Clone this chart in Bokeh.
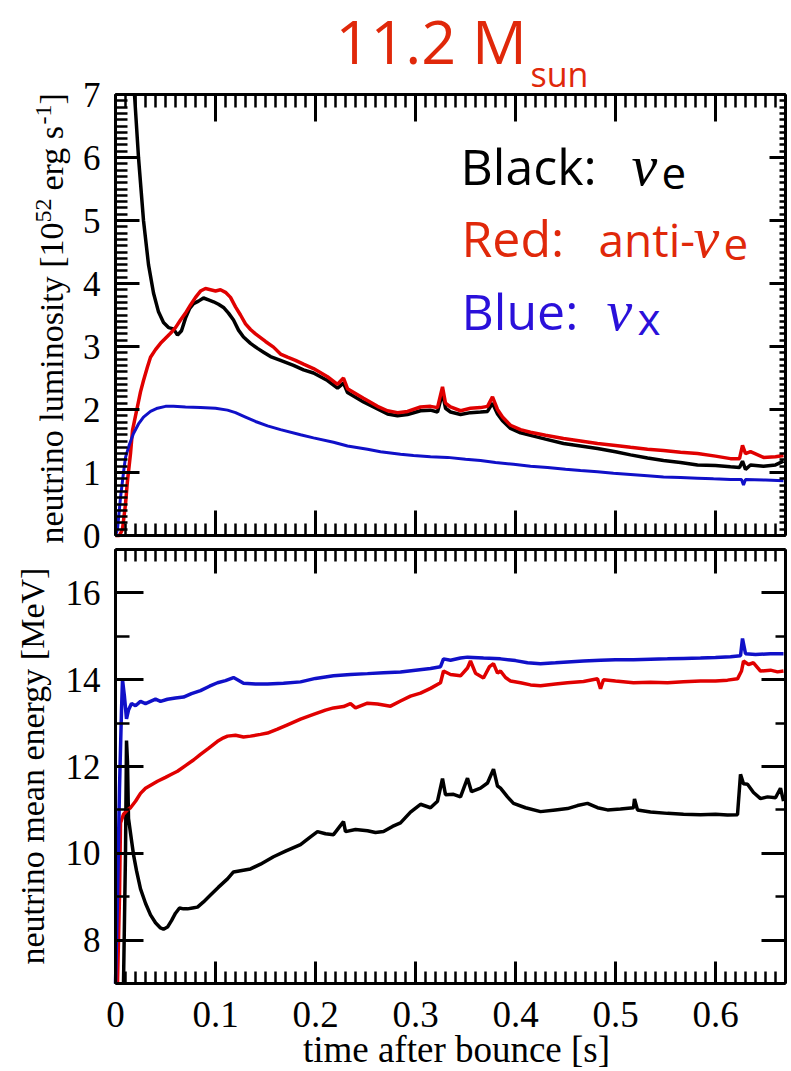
import numpy as np
from bokeh.plotting import figure
from bokeh.models import LinearAxis, FixedTicker, CustomJSTickFormatter, Label, Range1d
from bokeh.embed import file_html
from bokeh.resources import INLINE

# ---------------- data: upper panel, luminosity [10^52 erg/s] ----------------
t_lum_nue = [0.019, 0.023, 0.028, 0.033, 0.038, 0.043, 0.048,
             0.053, 0.058, 0.062, 0.066, 0.070, 0.074, 0.078, 0.083, 0.088, 0.093,
             0.098, 0.103, 0.108, 0.113, 0.118, 0.123, 0.128, 0.135, 0.142, 0.148,
             0.155, 0.165, 0.178, 0.188, 0.198, 0.212, 0.222, 0.228, 0.232, 0.248,
             0.262, 0.272, 0.282, 0.292, 0.305, 0.315, 0.322, 0.327, 0.330, 0.335,
             0.345, 0.355, 0.365, 0.372, 0.377, 0.382, 0.387, 0.395, 0.405, 0.415,
             0.430, 0.448, 0.465, 0.482, 0.500, 0.515, 0.532, 0.548, 0.565, 0.582,
             0.600, 0.615, 0.624, 0.627, 0.630, 0.635, 0.648, 0.660, 0.668]
lum_nue = [7.0, 6.0, 5.0, 4.3, 3.85, 3.55, 3.38,
           3.30, 3.28, 3.18, 3.25, 3.45, 3.60, 3.68, 3.72, 3.77, 3.74,
           3.71, 3.67, 3.62, 3.53, 3.42, 3.26, 3.15, 3.05, 2.97, 2.91,
           2.84, 2.78, 2.70, 2.63, 2.58, 2.46, 2.34, 2.42, 2.27, 2.12,
           2.01, 1.93, 1.90, 1.92, 1.98, 1.99, 1.96, 2.26, 2.02, 1.96,
           1.92, 1.95, 1.96, 1.97, 2.10, 1.93, 1.82, 1.70, 1.63, 1.59,
           1.53, 1.46, 1.42, 1.38, 1.33, 1.28, 1.23, 1.19, 1.16, 1.12,
           1.11, 1.09, 1.08, 1.18, 1.05, 1.12, 1.10, 1.12, 1.18]

t_lum_anue = [0.000, 0.004, 0.007, 0.010, 0.012, 0.015, 0.017, 0.020, 0.022, 0.025,
              0.028, 0.032, 0.035, 0.040, 0.045, 0.050, 0.055, 0.060, 0.065, 0.070,
              0.075, 0.080, 0.085, 0.090, 0.095, 0.100, 0.105, 0.110, 0.115, 0.120,
              0.125, 0.130, 0.135, 0.140, 0.145, 0.150, 0.158, 0.165, 0.172, 0.180,
              0.188, 0.198, 0.212, 0.222, 0.228, 0.232, 0.248, 0.262, 0.272, 0.282,
              0.292, 0.305, 0.315, 0.322, 0.327, 0.330, 0.335, 0.345, 0.355, 0.365,
              0.372, 0.377, 0.382, 0.387, 0.395, 0.405, 0.415, 0.430, 0.448, 0.465,
              0.482, 0.500, 0.515, 0.532, 0.548, 0.565, 0.582, 0.600, 0.615, 0.624,
              0.627, 0.630, 0.635, 0.648, 0.660, 0.668]
lum_anue = [0.0, 0.0, 0.10, 0.50, 0.87, 1.30, 1.67, 1.90, 2.05, 2.28,
            2.46, 2.68, 2.83, 2.95, 3.05, 3.13, 3.21, 3.30, 3.42, 3.53,
            3.66, 3.78, 3.88, 3.92, 3.90, 3.88, 3.90, 3.86, 3.78, 3.63,
            3.50, 3.36, 3.27, 3.20, 3.14, 3.08, 2.99, 2.88, 2.83, 2.78,
            2.72, 2.65, 2.52, 2.40, 2.50, 2.33, 2.18, 2.05, 1.98, 1.95,
            1.97, 2.04, 2.05, 2.03, 2.36, 2.10, 2.04, 1.98, 2.02, 2.03,
            2.05, 2.20, 2.00, 1.88, 1.75, 1.68, 1.64, 1.59, 1.54, 1.50,
            1.46, 1.43, 1.40, 1.37, 1.35, 1.32, 1.30, 1.26, 1.22, 1.22,
            1.43, 1.30, 1.33, 1.24, 1.25, 1.27]

t_lum_nux = [0.000, 0.002, 0.005, 0.008, 0.010, 0.014, 0.018, 0.023, 0.028, 0.035,
             0.042, 0.050, 0.058, 0.070, 0.085, 0.100, 0.112, 0.120, 0.130, 0.140,
             0.152, 0.165, 0.185, 0.198, 0.218, 0.232, 0.252, 0.265, 0.285, 0.298,
             0.315, 0.332, 0.350, 0.365, 0.380, 0.398, 0.415, 0.432, 0.450, 0.465,
             0.482, 0.498, 0.515, 0.532, 0.548, 0.565, 0.582, 0.598, 0.615, 0.626,
             0.628, 0.630, 0.650, 0.668]
lum_nux = [0.0, 0.10, 0.60, 1.00, 1.24, 1.45, 1.62, 1.77, 1.88, 1.97,
           2.02, 2.05, 2.05, 2.04, 2.03, 2.02, 1.99, 1.95, 1.88, 1.81,
           1.74, 1.68, 1.60, 1.55, 1.48, 1.42, 1.37, 1.33, 1.29, 1.27,
           1.25, 1.24, 1.21, 1.19, 1.16, 1.13, 1.10, 1.08, 1.05, 1.03,
           1.01, 0.99, 0.97, 0.95, 0.93, 0.92, 0.91, 0.90, 0.89, 0.89,
           0.80, 0.89, 0.88, 0.87]

# ---------------- data: lower panel, mean energy [MeV] ----------------
t_e_nue = [0.008, 0.010, 0.011, 0.012, 0.013, 0.016, 0.018, 0.021, 0.025, 0.030,
           0.035, 0.040, 0.045, 0.048, 0.052, 0.056, 0.060, 0.064, 0.068, 0.072,
           0.077, 0.082, 0.088, 0.095, 0.103, 0.112, 0.118, 0.125, 0.135, 0.145,
           0.158, 0.170, 0.185, 0.195, 0.202, 0.210, 0.218, 0.228, 0.230, 0.240,
           0.252, 0.260, 0.268, 0.277, 0.285, 0.295, 0.305, 0.315, 0.322, 0.327,
           0.330, 0.338, 0.345, 0.352, 0.356, 0.365, 0.372, 0.378, 0.382, 0.385,
           0.392, 0.398, 0.410, 0.425, 0.440, 0.452, 0.462, 0.472, 0.482, 0.492,
           0.505, 0.518, 0.519, 0.522, 0.535, 0.552, 0.568, 0.585, 0.600, 0.612,
           0.622, 0.625, 0.628, 0.632, 0.638, 0.645, 0.652, 0.660, 0.665, 0.668]
e_nue = [7.0, 10.0, 12.6, 12.1, 10.8, 10.3, 9.97, 9.6, 9.18, 8.85,
         8.58, 8.40, 8.28, 8.25, 8.30, 8.45, 8.62, 8.74, 8.72, 8.72,
         8.74, 8.76, 8.88, 9.04, 9.22, 9.41, 9.57, 9.60, 9.64, 9.75,
         9.92, 10.05, 10.2, 10.38, 10.5, 10.45, 10.43, 10.73, 10.5, 10.55,
         10.52, 10.48, 10.5, 10.62, 10.7, 10.95, 11.13, 11.05, 11.2, 11.72,
         11.35, 11.36, 11.3, 11.73, 11.42, 11.5, 11.62, 11.94, 11.55, 11.5,
         11.3, 11.15, 11.05, 10.96, 11.0, 11.03, 11.1, 11.15, 11.05, 11.0,
         11.02, 11.05, 11.25, 11.0, 10.95, 10.92, 10.9, 10.89, 10.9, 10.88,
         10.89, 11.82, 11.6, 11.59, 11.4, 11.26, 11.3, 11.28, 11.5, 11.2]

t_e_anue = [0.002, 0.004, 0.005, 0.008, 0.012, 0.015, 0.020, 0.025, 0.030, 0.036,
            0.042, 0.050, 0.056, 0.062, 0.070, 0.078, 0.085, 0.093, 0.102, 0.108,
            0.112, 0.120, 0.128, 0.135, 0.145, 0.152, 0.162, 0.172, 0.185, 0.198,
            0.210, 0.218, 0.228, 0.235, 0.240, 0.252, 0.262, 0.275, 0.285, 0.295,
            0.305, 0.315, 0.325, 0.328, 0.335, 0.345, 0.352, 0.355, 0.360, 0.368,
            0.374, 0.378, 0.382, 0.385, 0.390, 0.395, 0.405, 0.415, 0.425, 0.440,
            0.452, 0.468, 0.482, 0.485, 0.488, 0.500, 0.518, 0.535, 0.552, 0.568,
            0.585, 0.600, 0.612, 0.622, 0.626, 0.628, 0.633, 0.638, 0.645, 0.655,
            0.662, 0.668]
e_anue = [7.0, 9.0, 10.7, 10.9, 11.0, 11.05, 11.2, 11.38, 11.5, 11.58,
          11.66, 11.75, 11.82, 11.89, 12.02, 12.15, 12.28, 12.42, 12.58, 12.66,
          12.70, 12.72, 12.68, 12.70, 12.74, 12.77, 12.86, 12.96, 13.09, 13.2,
          13.3, 13.35, 13.38, 13.45, 13.35, 13.46, 13.44, 13.39, 13.51, 13.62,
          13.69, 13.8, 13.93, 14.2, 14.12, 14.09, 14.27, 14.43, 14.15, 14.04,
          14.3, 14.37, 14.15, 14.2, 14.05, 13.97, 13.93, 13.88, 13.86, 13.9,
          13.93, 13.96, 14.02, 13.79, 14.0, 13.97, 13.93, 13.94, 13.93, 13.95,
          13.97, 13.97, 13.99, 14.02, 14.2, 14.43, 14.35, 14.39, 14.2, 14.22,
          14.18, 14.2]

t_e_nux = [0.000, 0.002, 0.004, 0.006, 0.007, 0.009, 0.011, 0.013, 0.016, 0.020,
           0.025, 0.030, 0.035, 0.040, 0.045, 0.052, 0.060, 0.068, 0.076, 0.085,
           0.094, 0.102, 0.110, 0.118, 0.122, 0.128, 0.140, 0.152, 0.168, 0.185,
           0.200, 0.218, 0.235, 0.252, 0.268, 0.285, 0.300, 0.315, 0.325, 0.328,
           0.335, 0.345, 0.352, 0.368, 0.385, 0.400, 0.412, 0.425, 0.440, 0.452,
           0.468, 0.485, 0.500, 0.518, 0.535, 0.552, 0.568, 0.585, 0.600, 0.615,
           0.625, 0.627, 0.630, 0.640, 0.655, 0.668]
e_nux = [7.0, 9.0, 11.5, 13.3, 14.0, 13.6, 13.1, 13.3, 13.45, 13.4,
         13.5, 13.45, 13.5, 13.55, 13.5, 13.55, 13.58, 13.6, 13.68, 13.75,
         13.85, 13.93, 13.98, 14.05, 14.0, 13.92, 13.9, 13.9, 13.92, 13.95,
         14.03, 14.09, 14.12, 14.14, 14.16, 14.18, 14.22, 14.26, 14.30, 14.48,
         14.45, 14.5, 14.52, 14.5, 14.48, 14.44, 14.39, 14.37, 14.39, 14.41,
         14.43, 14.45, 14.46, 14.46, 14.47, 14.48, 14.49, 14.5, 14.51, 14.53,
         14.55, 14.95, 14.6, 14.58, 14.6, 14.6]

# ---------------- ticks ----------------
x_ticks = [0, 0.1, 0.2, 0.3, 0.4, 0.5, 0.6]
x_tick_labels = ["0", "0.1", "0.2", "0.3", "0.4", "0.5", "0.6"]
lum_ticks = [0, 1, 2, 3, 4, 5, 6, 7]
lum_tick_labels = ["0", "1", "2", "3", "4", "5", "6", "7"]
e_ticks = [8, 10, 12, 14, 16]
e_tick_labels = ["8", "10", "12", "14", "16"]

# ---------------- styling / layout constants ----------------
BLACK = "#000000"
RED = "#E00000"
BLUE = "#1010C8"
TXT_RED = "#E0280A"
TXT_BLUE = "#2A10DA"
SERIF = "Liberation Serif"
SANS = "Open Sans"

W, H = 791, 1071
FX0, FX1 = 115, 785          # panel left / right edge (px)
T_TOP, T_BOT = 94, 535       # upper panel top / bottom (px)
B_TOP, B_BOT = 549, 983      # lower panel top / bottom (px)
X_END = 0.67
LUM_MIN, LUM_MAX = 0, 7
E_MIN, E_MAX = 7, 17

xs = (FX1 - FX0) / X_END
ls = (T_BOT - T_TOP) / (LUM_MAX - LUM_MIN)
es = (B_BOT - B_TOP) / (E_MAX - E_MIN)


def X(px):
    return (px - FX0) / xs


def L(py):
    return LUM_MIN + (T_BOT - py) / ls


def E(py):
    return E_MIN + (B_BOT - py) / es


x_minor = [round(v, 3) for v in np.arange(0, X_END + 0.0001, 0.01)]
lum_minor = [round(v, 2) for v in np.arange(LUM_MIN, LUM_MAX + 0.0001, 0.1)]
e_minor = [7, 9, 11, 13, 15, 17]

p = figure(width=W, height=H,
           x_range=Range1d(X(0), X(W)), y_range=Range1d(L(H), L(0)),
           output_backend="svg", toolbar_location=None, title=None,
           x_axis_location=None, y_axis_location=None,
           min_border=0, min_border_left=0, min_border_right=0,
           min_border_top=0, min_border_bottom=0)
p.extra_y_ranges = {"e": Range1d(E(H), E(0))}
p.xgrid.visible = False
p.ygrid.visible = False
p.outline_line_color = None
p.background_fill_color = "white"
p.border_fill_color = "white"


def label_fmt(tick_vals, tick_texts):
    return CustomJSTickFormatter(
        args=dict(tv=tick_vals, tl=tick_texts),
        code="const i = tv.findIndex(t => Math.abs(t - tick) < 1e-9); return i >= 0 ? tl[i] : '';")


def add_axis(side, ticks, minor, loc, bounds, major_in, minor_in, labels=None,
             standoff=0, font_size="35px", y_range_name="default"):
    ax = LinearAxis(fixed_location=loc, bounds=bounds, y_range_name=y_range_name,
                    ticker=FixedTicker(ticks=ticks, minor_ticks=minor))
    ax.major_tick_in = major_in
    ax.major_tick_out = 0
    ax.minor_tick_in = minor_in
    ax.minor_tick_out = 0
    ax.major_tick_line_width = 3
    ax.minor_tick_line_width = 2.5
    ax.major_tick_line_color = "black"
    ax.minor_tick_line_color = "black"
    ax.axis_line_width = 3
    ax.axis_line_color = "black"
    if labels is None:
        ax.formatter = CustomJSTickFormatter(code="return '';")
        ax.major_label_standoff = 0
        ax.major_label_text_font_size = "1px"
    else:
        ax.formatter = label_fmt(ticks, labels)
        ax.major_label_standoff = standoff
        ax.major_label_text_font = SERIF
        ax.major_label_text_font_size = font_size
        ax.major_label_text_color = "black"
    p.add_layout(ax, side)
    return ax


# upper panel axes (box)
add_axis("left", lum_ticks, lum_minor, 0, (LUM_MIN, LUM_MAX), 24, 12,
         labels=lum_tick_labels, standoff=15, font_size="35px")
add_axis("right", lum_ticks, lum_minor, X_END, (LUM_MIN, LUM_MAX), 16, 6)
add_axis("above", x_ticks, x_minor, LUM_MAX, (0, X_END), 27, 13)
add_axis("below", x_ticks, x_minor, LUM_MIN, (0, X_END), 25, 12)

# lower panel axes (box)
add_axis("left", e_ticks, e_minor, 0, (E_MIN, E_MAX), 28, 14,
         labels=e_tick_labels, standoff=15, font_size="35px", y_range_name="e")
add_axis("right", e_ticks, e_minor, X_END, (E_MIN, E_MAX), 24, 10, y_range_name="e")
add_axis("above", x_ticks, x_minor, E_MAX, (0, X_END), 24, 12, y_range_name="e")
add_axis("below", x_ticks, x_minor, E_MIN, (0, X_END), 22, 12,
         labels=x_tick_labels, standoff=18, font_size="37px", y_range_name="e")

# curves
p.line(t_lum_nue, lum_nue, line_color=BLACK, line_width=3.5)
p.line(t_lum_anue, lum_anue, line_color=RED, line_width=3.5)
p.line(t_lum_nux, lum_nux, line_color=BLUE, line_width=3)
p.line(t_e_nue, e_nue, line_color=BLACK, line_width=3.5, y_range_name="e")
p.line(t_e_anue, e_anue, line_color=RED, line_width=3.5, y_range_name="e")
p.line(t_e_nux, e_nux, line_color=BLUE, line_width=3.5, y_range_name="e")


def text(px, py, s, size, color="black", font=SANS, style="normal", angle=0.0, align="left"):
    # (px, py) is the desired start of the text baseline; labels are anchored at the
    # middle of their text box, which sits about k*size above the baseline
    k = 0.40 if font == SANS else 0.34
    fs = float(size.replace("px", ""))
    if angle == 0.0:
        py = py - k * fs
    else:
        px = px - k * fs
    p.add_layout(Label(x=X(px), y=L(py), text=s, text_font=font, text_font_size=size,
                       text_font_style=style, text_color=color, angle=angle,
                       text_baseline="middle", text_align=align))


# title "11.2 M_sun"
text(335, 64, "11.2 M", "61px", TXT_RED)
text(530, 87, "sun", "34px", TXT_RED)

# legend
text(460, 185, "Black:", "50px", BLACK)
text(631, 185, "\u03bd", "58px", BLACK, font=SERIF, style="italic")
text(661, 191, "e", "44px", BLACK)
text(461, 257, "Red:", "50px", TXT_RED)
text(598, 257, "anti-", "46px", TXT_RED)
text(693, 257, "\u03bd", "58px", TXT_RED, font=SERIF, style="italic")
text(723, 262, "e", "44px", TXT_RED)
text(461, 330, "Blue:", "50px", TXT_BLUE)
text(606, 330, "\u03bd", "58px", TXT_BLUE, font=SERIF, style="italic")
text(637, 335, "x", "44px", TXT_BLUE)

# axis titles
UP = np.pi / 2
text(63, 543, "neutrino luminosity [10", "34px", font=SERIF, angle=UP)
text(51, 222, "52", "24px", font=SERIF, angle=UP)
text(63, 190, "erg s", "34px", font=SERIF, angle=UP)
text(51, 124, "-1", "24px", font=SERIF, angle=UP)
text(63, 104, "]", "34px", font=SERIF, angle=UP)
text(44, 964, "neutrino mean energy [MeV]", "34px", font=SERIF, angle=UP)
text(456, 1062, "time after bounce [s]", "37px", font=SERIF, align="center")

open("out.html", "w").write(file_html(p, INLINE))
